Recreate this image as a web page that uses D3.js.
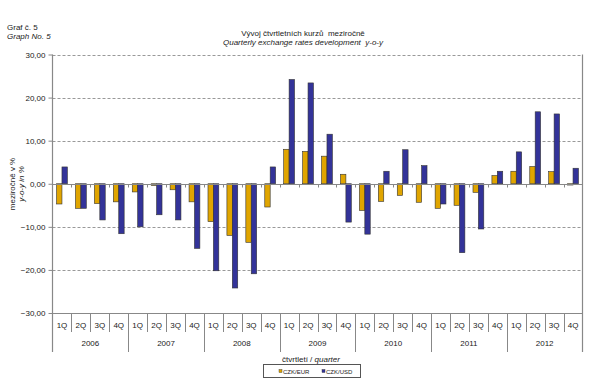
<!DOCTYPE html>
<meta charset="utf-8">
<script src="https://d3js.org/d3.v7.min.js"></script>
<style>
  body { margin: 0; background: #fff; }
  text { font-family: "Liberation Sans", Arial, sans-serif; fill: #222; }
</style>
<div id="chart"></div>
<script>
  // data
  const years = ["2006", "2007", "2008", "2009", "2010", "2011", "2012"];
  const quarters = ["1Q", "2Q", "3Q", "4Q"];
  const czkEur = [-4.7, -5.7, -4.6, -4.2, -1.9, -0.4, -1.4, -4.2, -8.8, -12.0, -13.6, -5.4,
    8.0, 7.5, 6.4, 2.2, -6.2, -4.1, -2.7, -4.3, -5.7, -5.0, -2.0, 1.9, 2.9, 4.0, 2.8, -0.3];
  const czkUsd = [3.9, -5.7, -8.4, -11.6, -10.0, -7.2, -8.4, -15.0, -20.2, -24.2, -20.9, 3.9,
    24.2, 23.4, 11.5, -8.9, -11.7, 2.9, 7.9, 4.2, -4.7, -16.0, -10.5, 2.9, 7.4, 16.7, 16.2, 3.6];
  const yTicks = [-30, -20, -10, 0, 10, 20, 30];
  const seriesNames = ["CZK/EUR", "CZK/USD"];

  const width = 600, height = 392;
  const x0 = 52.5, x1 = 582.5, yTop = 54.5, yBot = 313;
  const colors = ["#E0A500", "#333399"];

  const svg = d3.select("#chart").append("svg")
    .attr("width", width).attr("height", height);

  const cats = [];
  years.forEach(y => quarters.forEach(q => cats.push(y + q)));

  const x = d3.scaleBand().domain(cats).range([x0, x1]).paddingInner(0).paddingOuter(0);
  const y = d3.scaleLinear().domain([-30, 30]).range([yBot, yTop]);

  // gridlines
  svg.selectAll(".grid")
    .data(yTicks.filter(d => d !== 0 && d !== -30))
    .join("line")
    .attr("x1", x0).attr("x2", x1)
    .attr("y1", d => Math.round(y(d)) + 0.5).attr("y2", d => Math.round(y(d)) + 0.5)
    .attr("stroke", "#999").attr("stroke-dasharray", "3,2").attr("stroke-width", 1);

  // y axis
  const yAxis = d3.axisLeft(y).tickValues(yTicks).tickSize(4)
    .tickFormat(d => d3.format(".2f")(d).replace(".", ","));
  const gy = svg.append("g").attr("transform", `translate(${x0},0)`).call(yAxis);
  gy.select(".domain").remove();
  gy.selectAll(".tick line").attr("stroke", "#888");
  gy.selectAll(".tick text").attr("font-size", 8).attr("x", -7).style("fill", "#222");

  // bars
  const inner = d3.scaleBand().domain([0, 1]).range([0, x.bandwidth()]).paddingInner(0).paddingOuter(0.75);
  [czkEur, czkUsd].forEach((vals, si) => {
    svg.append("g").selectAll("rect")
      .data(vals)
      .join("rect")
      .attr("x", (d, i) => x(cats[i]) + inner(si))
      .attr("width", inner.bandwidth())
      .attr("y", d => y(Math.max(0, d)))
      .attr("height", d => Math.abs(y(d) - y(0)))
      .attr("fill", colors[si])
      .attr("stroke", "#333")
      .attr("stroke-width", 0.6);
  });

  // zero axis with ticks
  const yz = Math.round(y(0)) + 0.5;
  svg.append("line").attr("x1", x0).attr("x2", x1).attr("y1", yz).attr("y2", yz)
    .attr("stroke", "#888");
  svg.selectAll(".ztick")
    .data(cats.slice(1))
    .join("line")
    .attr("x1", d => Math.round(x(d)) + 0.5).attr("x2", d => Math.round(x(d)) + 0.5)
    .attr("y1", yz).attr("y2", yz + 3)
    .attr("stroke", "#888");

  // frame: left, right, bottom
  svg.append("line").attr("x1", x0).attr("x2", x0).attr("y1", yTop).attr("y2", 352).attr("stroke", "#888").attr("stroke-width", 1.2);
  svg.append("line").attr("x1", x1).attr("x2", x1).attr("y1", yTop).attr("y2", 352).attr("stroke", "#888").attr("stroke-width", 1.2);
  svg.append("line").attr("x1", x0).attr("x2", x1).attr("y1", Math.round(yBot) + 0.5).attr("y2", Math.round(yBot) + 0.5).attr("stroke", "#888");

  // category separators
  svg.selectAll(".qsep")
    .data(cats.slice(1))
    .join("line")
    .attr("x1", d => Math.round(x(d)) + 0.5).attr("x2", d => Math.round(x(d)) + 0.5)
    .attr("y1", yBot).attr("y2", (d, i) => (i + 1) % 4 === 0 ? 352 : 332)
    .attr("stroke", "#888");

  svg.selectAll(".qlab")
    .data(cats)
    .join("text")
    .attr("x", d => x(d) + x.bandwidth() / 2)
    .attr("y", 328)
    .attr("text-anchor", "middle")
    .attr("font-size", 8)
    .text((d, i) => quarters[i % 4]);

  svg.selectAll(".ylab")
    .data(years)
    .join("text")
    .attr("x", (d, i) => x(cats[i * 4]) + x.bandwidth() * 2)
    .attr("y", 346)
    .attr("text-anchor", "middle")
    .attr("font-size", 8)
    .text(d => d);

  // titles
  svg.append("text").attr("x", 7).attr("y", 30).attr("font-size", 8).text("Graf č. 5");
  svg.append("text").attr("x", 7).attr("y", 39).attr("font-size", 8).attr("font-style", "italic").text("Graph No. 5");
  svg.append("text").attr("x", 303).attr("y", 36).attr("font-size", 8).attr("text-anchor", "middle")
    .attr("xml:space", "preserve").text("Vývoj čtvrtletních kurzů  meziročně");
  svg.append("text").attr("x", 303).attr("y", 45).attr("font-size", 8).attr("text-anchor", "middle")
    .attr("font-style", "italic").attr("xml:space", "preserve").text("Quarterly exchange rates development  y-o-y");

  // y title
  const yt = svg.append("text").attr("transform", "translate(15,184) rotate(-90)")
    .attr("text-anchor", "middle").attr("font-size", 8);
  yt.append("tspan").attr("x", 0).attr("dy", 0).text("meziročně v %");
  yt.append("tspan").attr("x", 0).attr("dy", 8.5).attr("font-style", "italic").text("y-o-y in %");

  // x title
  const xt = svg.append("text").attr("x", 311).attr("y", 362).attr("text-anchor", "middle").attr("font-size", 8);
  xt.append("tspan").text("čtvrtletí / ");
  xt.append("tspan").attr("font-style", "italic").text("quarter");

  // legend
  const lg = svg.append("g");
  lg.append("rect").attr("x", 263.5).attr("y", 364.5).attr("width", 97).attr("height", 13)
    .attr("fill", "#fff").attr("stroke", "#555");
  seriesNames.forEach((n, i) => {
    const lx = 279 + i * 43;
    lg.append("rect").attr("x", lx).attr("y", 369.5).attr("width", 3).attr("height", 3)
      .attr("fill", colors[i]).attr("stroke", "#333").attr("stroke-width", 0.4);
    lg.append("text").attr("x", lx + 4).attr("y", 373.5).attr("font-size", 6).text(n);
  });
</script>
